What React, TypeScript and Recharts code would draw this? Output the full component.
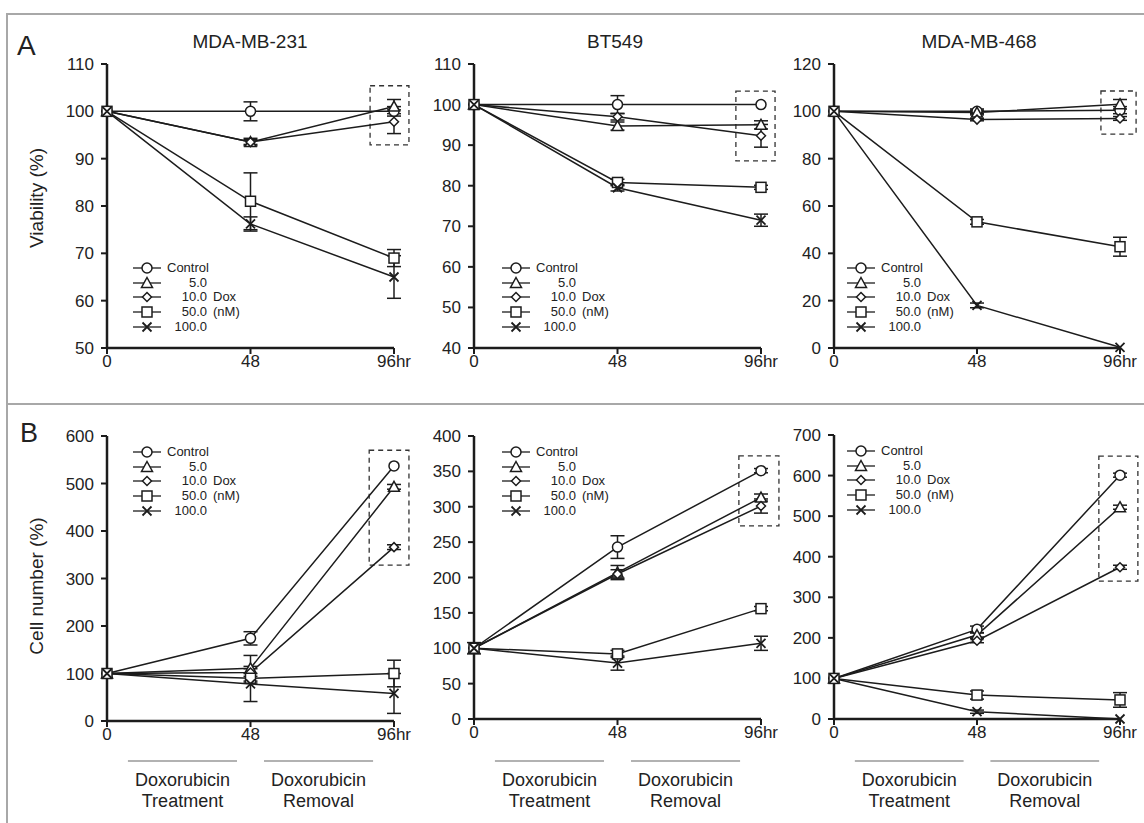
import React from "react";
import { LineChart, Line, XAxis, YAxis, ErrorBar, ReferenceArea } from "recharts";

const FONT = "'Liberation Sans', Arial, Helvetica, sans-serif";
const INK = "#1c1c1c";

const hours = [0, 48, 96];
const hourLabels = ["0", "48", "96hr"];
const doses = ["Control", "5.0", "10.0", "50.0", "100.0"];
const doseUnits = ["", "", "Dox", "(nM)", ""];
const markers = ["circle", "triangle", "diamond", "square", "cross"];

// viability (%) — one row per dose, one column per hour
const viab231 = [[100, 100, 100], [100, 93.5, 101], [100, 93.5, 97.8], [100, 81, 69], [100, 76.2, 65]];
const viab231Err = [[0, 2, 1], [0, 0.8, 1.5], [0, 0.5, 2.5], [0, 6, 1.8], [0, 1.5, 4.5]];
const viabBT549 = [[100, 100, 100], [100, 94.7, 95], [100, 97, 92.3], [100, 80.8, 79.6], [100, 79.5, 71.5]];
const viabBT549Err = [[0, 2.2, 0], [0, 1, 1], [0, 0.8, 2.8], [0, 0.8, 0.5], [0, 0.8, 1.5]];
const viab468 = [[100, 100, 100.5], [100, 99.5, 103], [100, 96.5, 97], [100, 53.3, 42.8], [100, 18, 0.3]];
const viab468Err = [[0, 1, 1.5], [0, 1, 2], [0, 0.5, 0.8], [0, 1, 4], [0, 1, 0]];

// cell number (%)
const cells231 = [[100, 174, 537], [100, 111, 493], [100, 102, 366], [100, 90, 100], [100, 78, 58]];
const cells231Err = [[0, 14, 0], [0, 27, 5], [0, 8, 5], [0, 10, 28], [0, 37, 42]];
const cellsBT549 = [[100, 243, 351], [100, 207, 313], [100, 205, 301], [100, 92, 156], [100, 79, 107]];
const cellsBT549Err = [[8, 16, 3], [0, 10, 5], [0, 6, 10], [0, 5, 3], [0, 10, 10]];
const cells468 = [[100, 221, 601], [100, 207, 522], [100, 193, 374], [100, 59, 47], [100, 18, 0]];
const cells468Err = [[0, 8, 5], [0, 5, 5], [0, 5, 5], [0, 10, 18], [0, 4, 0]];

const ticks231A = [50, 60, 70, 80, 90, 100, 110];
const ticksBT549A = [40, 50, 60, 70, 80, 90, 100, 110];
const ticks468A = [0, 20, 40, 60, 80, 100, 120];
const ticks231B = [0, 100, 200, 300, 400, 500, 600];
const ticksBT549B = [0, 50, 100, 150, 200, 250, 300, 350, 400];
const ticks468B = [0, 100, 200, 300, 400, 500, 600, 700];

// dashed highlight boxes around the 96 hr points: [x1, x2, y1, y2] in data units
const box231A = [88, 101, 92.9, 105.4];
const boxBT549A = [87.6, 100.7, 86.1, 103.3];
const box468A = [89.6, 101.4, 90.4, 108.6];
const box231B = [87.7, 101, 328, 570];
const boxBT549B = [88.6, 102, 273, 372];
const box468B = [88.9, 102, 340, 648];

const phaseSpans = [[7, 43.5], [52.5, 89]];
const phaseText = [["Doxorubicin", "Treatment"], ["Doxorubicin", "Removal"]];

const panels = [
  { title: "MDA-MB-231", titleX: 250, values: viab231, errors: viab231Err, ticks: ticks231A, box: box231A,
    plot: { x0: 107, x1: 394, y0: 64, y1: 348 }, legend: { dx: 26, dy: 204 }, phases: false },
  { title: "BT549", titleX: 615, values: viabBT549, errors: viabBT549Err, ticks: ticksBT549A, box: boxBT549A,
    plot: { x0: 474, x1: 761, y0: 64, y1: 348 }, legend: { dx: 28, dy: 204 }, phases: false },
  { title: "MDA-MB-468", titleX: 979, values: viab468, errors: viab468Err, ticks: ticks468A, box: box468A,
    plot: { x0: 834, x1: 1120, y0: 64, y1: 348 }, legend: { dx: 13, dy: 204 }, phases: false },
  { title: "", titleX: 0, values: cells231, errors: cells231Err, ticks: ticks231B, box: box231B,
    plot: { x0: 107, x1: 394, y0: 436, y1: 721 }, legend: { dx: 26, dy: 16 }, phases: true },
  { title: "", titleX: 0, values: cellsBT549, errors: cellsBT549Err, ticks: ticksBT549B, box: boxBT549B,
    plot: { x0: 474, x1: 761, y0: 436, y1: 719 }, legend: { dx: 28, dy: 16 }, phases: true },
  { title: "", titleX: 0, values: cells468, errors: cells468Err, ticks: ticks468B, box: box468B,
    plot: { x0: 834, x1: 1120, y0: 435, y1: 719 }, legend: { dx: 13, dy: 16 }, phases: true },
];

function buildRows(values: number[][], errors: number[][]) {
  return hours.map((h, i) => {
    const row: any = { hour: h };
    values.forEach((s, k) => {
      row[`v${k}`] = s[i];
      row[`e${k}`] = errors[k][i] ? errors[k][i] : null;
    });
    return row;
  });
}

function Marker({ shape, cx, cy }: { shape: string; cx?: number; cy?: number }) {
  if (cx == null || cy == null) return null;
  const common = { fill: "#fff", stroke: INK, strokeWidth: 1.5 };
  if (shape === "circle") return <circle cx={cx} cy={cy} r={5} {...common} />;
  if (shape === "triangle")
    return <polygon points={`${cx},${cy - 5.5} ${cx + 5.5},${cy + 4.5} ${cx - 5.5},${cy + 4.5}`} {...common} />;
  if (shape === "diamond")
    return <polygon points={`${cx},${cy - 4.5} ${cx + 4.5},${cy} ${cx},${cy + 4.5} ${cx - 4.5},${cy}`} {...common} />;
  if (shape === "square") return <rect x={cx - 5} y={cy - 5} width={10} height={10} {...common} />;
  return (
    <path
      d={`M${cx - 4.5},${cy - 4.5}L${cx + 4.5},${cy + 4.5}M${cx + 4.5},${cy - 4.5}L${cx - 4.5},${cy + 4.5}`}
      stroke={INK}
      strokeWidth={1.8}
      fill="none"
    />
  );
}

function DoseLegend({ left, top }: { left: number; top: number }) {
  return (
    <div style={{ position: "absolute", left, top, fontFamily: FONT, fontSize: 13, color: "#222" }}>
      {doses.map((d, k) => (
        <div key={d} style={{ position: "absolute", left: 0, top: k * 14.7 - 7, height: 14, width: 130 }}>
          <svg width={30} height={14} style={{ position: "absolute", left: 0, top: 0, overflow: "visible" }}>
            <line x1={0} x2={28} y1={7} y2={7} stroke={INK} strokeWidth={1.3} />
            <Marker shape={markers[k]} cx={14} cy={7} />
          </svg>
          <span
            style={{
              position: "absolute",
              left: 34,
              width: 40,
              top: 0,
              lineHeight: "14px",
              whiteSpace: "nowrap",
              textAlign: k === 0 ? "left" : "right",
            }}
          >
            {d}
          </span>
          {doseUnits[k] && (
            <span style={{ position: "absolute", left: 80, top: 0, lineHeight: "14px", whiteSpace: "nowrap" }}>
              {doseUnits[k]}
            </span>
          )}
        </div>
      ))}
    </div>
  );
}

function Panel({ p }: { p: any }) {
  const { x0, x1, y0, y1 } = p.plot;
  const W = x1 - x0 + 120;
  const H = y1 - y0 + 60;
  const rows = buildRows(p.values, p.errors);
  const [bx1, bx2, by1, by2] = p.box;
  const tickStyle = { fill: "#222", fontSize: 17, fontFamily: FONT };
  return (
    <div style={{ position: "absolute", left: x0 - 80, top: y0 - 20, width: W, height: H }}>
      <LineChart width={W} height={H} data={rows} margin={{ top: 20, right: 40, bottom: 10, left: 20 }}>
        <XAxis
          dataKey="hour"
          type="number"
          domain={[0, 96]}
          ticks={hours}
          tickFormatter={(v: number) => hourLabels[hours.indexOf(v)]}
          height={30}
          tickSize={6}
          tickMargin={1}
          axisLine={{ stroke: INK, strokeWidth: 2.5 }}
          tickLine={{ stroke: INK, strokeWidth: 2 }}
          tick={tickStyle}
          interval={0}
        />
        <YAxis
          type="number"
          width={60}
          domain={[p.ticks[0], p.ticks[p.ticks.length - 1]]}
          ticks={p.ticks}
          interval={0}
          tickSize={6}
          tickMargin={7}
          axisLine={{ stroke: INK, strokeWidth: 2.5 }}
          tickLine={{ stroke: INK, strokeWidth: 2 }}
          tick={tickStyle}
        />
        <ReferenceArea
          x1={bx1}
          x2={bx2}
          y1={by1}
          y2={by2}
          ifOverflow="visible"
          fill="none"
          fillOpacity={0}
          stroke="#333"
          strokeWidth={1.3}
          strokeDasharray="5 4"
        />
        {doses.map((d, k) => (
          <Line
            key={d}
            dataKey={`v${k}`}
            type="linear"
            stroke={INK}
            strokeWidth={1.5}
            isAnimationActive={false}
            dot={(dp: any) => <Marker key={`${d}-${dp.index}`} shape={markers[k]} cx={dp.cx} cy={dp.cy} />}
            activeDot={false}
          >
            <ErrorBar dataKey={`e${k}`} width={7} stroke={INK} strokeWidth={1.5} direction="y" />
          </Line>
        ))}
      </LineChart>
      <DoseLegend left={80 + p.legend.dx} top={20 + p.legend.dy} />
    </div>
  );
}

function Annotations() {
  return (
    <svg width={1144} height={823} style={{ position: "absolute", left: 0, top: 0 }}>
      <line x1={7} x2={1144} y1={14} y2={14} stroke="#a8a8a8" strokeWidth={2} />
      <line x1={7} x2={1144} y1={404} y2={404} stroke="#a8a8a8" strokeWidth={2} />
      <line x1={7} x2={7} y1={13} y2={823} stroke="#a8a8a8" strokeWidth={2} />
      <text x={17} y={55} fontSize={28} fontFamily={FONT} fill="#222">A</text>
      <text x={20} y={442} fontSize={27} fontFamily={FONT} fill="#222">B</text>
      <text x={43} y={198} fontSize={19} fontFamily={FONT} fill="#222" textAnchor="middle" transform="rotate(-90 43 198)">
        Viability (%)
      </text>
      <text x={43} y={586} fontSize={19} fontFamily={FONT} fill="#222" textAnchor="middle" transform="rotate(-90 43 586)">
        Cell number (%)
      </text>
      {panels.map((p, i) => {
        const { x0, x1 } = p.plot;
        const sx = (h: number) => x0 + (h * (x1 - x0)) / 96;
        return (
          <g key={i}>
            {p.title && (
              <text x={p.titleX} y={48} fontSize={19} fontFamily={FONT} fill="#222" textAnchor="middle">
                {p.title}
              </text>
            )}
            {p.phases &&
              phaseSpans.map((s, j) => (
                <g key={j}>
                  <line x1={sx(s[0])} x2={sx(s[1])} y1={761} y2={761} stroke="#666" strokeWidth={1.2} />
                  <text x={sx((s[0] + s[1]) / 2)} y={786} fontSize={18} fontFamily={FONT} fill="#222" textAnchor="middle">
                    {phaseText[j][0]}
                  </text>
                  <text x={sx((s[0] + s[1]) / 2)} y={807} fontSize={18} fontFamily={FONT} fill="#222" textAnchor="middle">
                    {phaseText[j][1]}
                  </text>
                </g>
              ))}
          </g>
        );
      })}
    </svg>
  );
}

export default function App() {
  return (
    <div style={{ position: "absolute", left: 0, top: 0, width: 1144, height: 823, background: "#fff", overflow: "hidden" }}>
      <Annotations />
      {panels.map((p, i) => (
        <Panel key={i} p={p} />
      ))}
    </div>
  );
}
